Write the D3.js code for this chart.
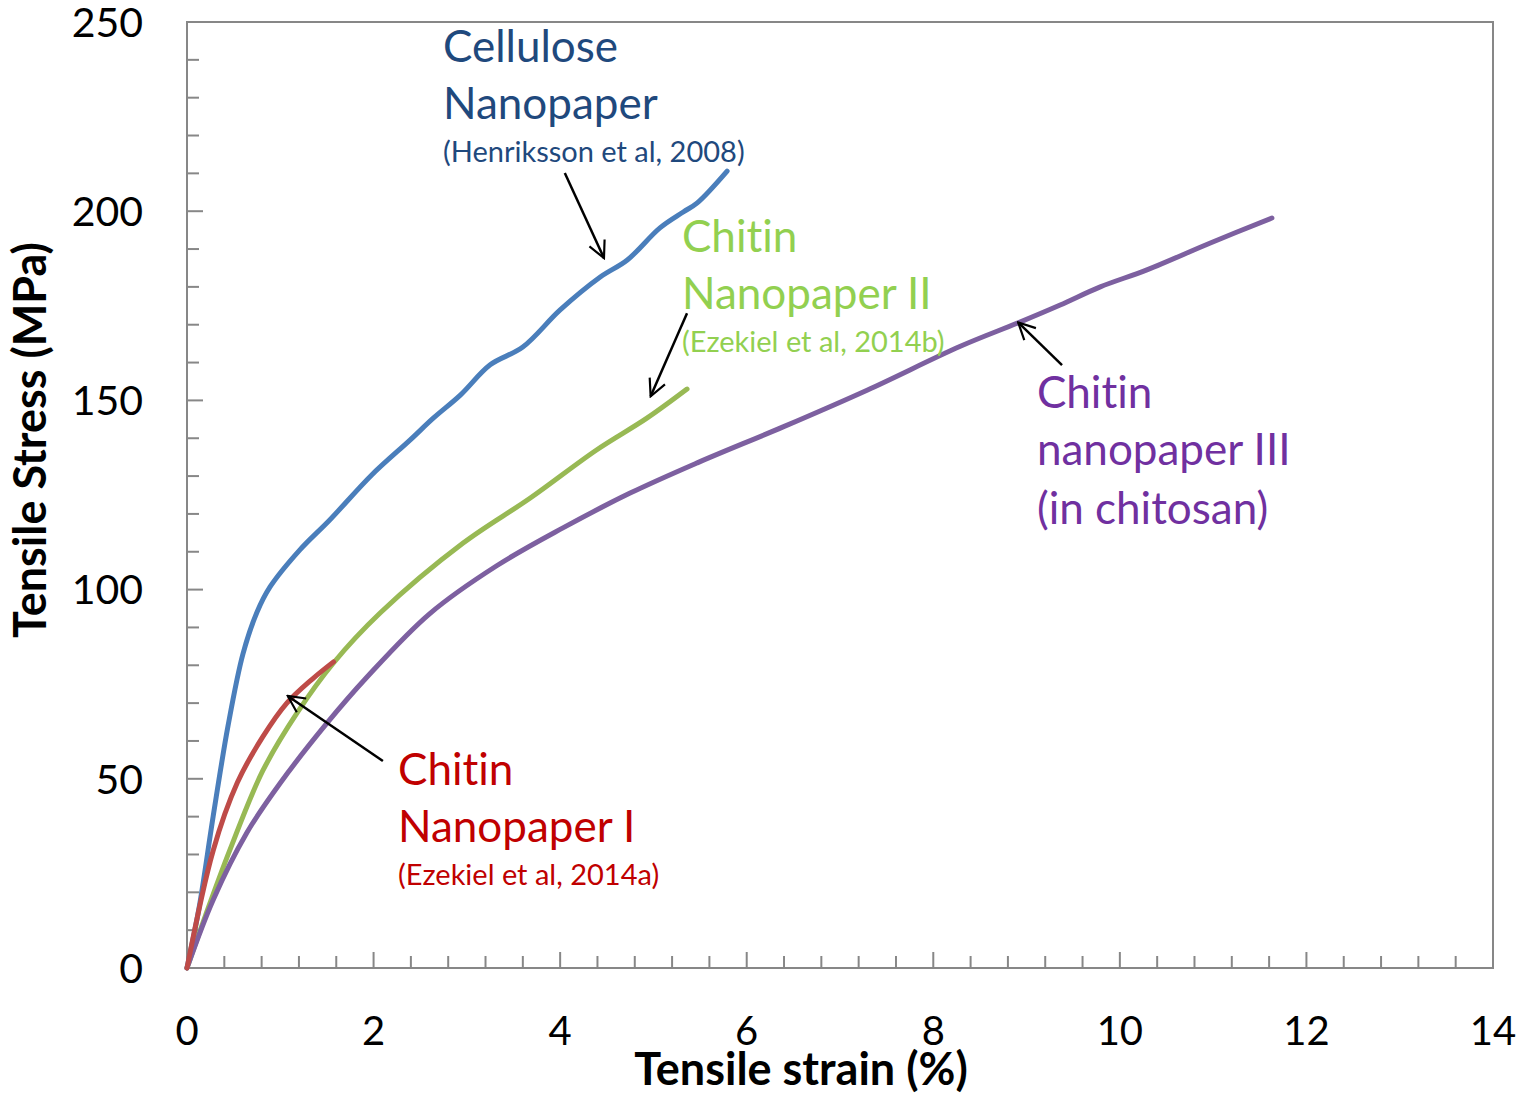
<!DOCTYPE html>
<html>
<head>
<meta charset="utf-8">
<script src="https://cdn.jsdelivr.net/npm/d3@7"></script>
<style>
  body { margin: 0; background: #fff; }
  text { font-family: Lato, "Open Sans", sans-serif; font-variant-ligatures: none; }
</style>
</head>
<body>
<script>
const celluloseStrain = [0, 0.13, 0.28, 0.44, 0.60, 0.75, 0.89, 1.21, 1.53, 1.98, 2.39, 2.64, 2.93, 3.25, 3.60, 4.00, 4.43, 4.72, 5.07, 5.32, 5.47, 5.79];
const celluloseStress = [0, 16.0, 40.0, 64.0, 83.0, 94.0, 100.7, 110.5, 118.4, 130.3, 139.5, 145.3, 151.4, 159.4, 164.1, 173.9, 182.6, 187.1, 195.6, 199.8, 202.2, 210.6];

const chitin1Strain = [0, 0.28, 0.54, 0.81, 1.07, 1.35, 1.57];
const chitin1Stress = [0, 31.0, 49.0, 61.0, 70.0, 76.5, 80.9];

const chitin2Strain = [0, 0.2, 0.46, 0.81, 1.18, 1.57, 2.07, 2.96, 3.68, 4.39, 4.93, 5.36];
const chitin2Stress = [0, 14.0, 31.2, 52.0, 67.4, 80.6, 93.8, 112.3, 124.2, 136.9, 145.3, 153.0];

const chitin3Strain = [0, 0.28, 0.64, 1.00, 1.50, 1.93, 2.60, 3.32, 4.03, 4.75, 5.47, 6.39, 7.29, 8.29, 8.91, 9.36, 9.79, 10.29, 10.97, 11.63];
const chitin3Stress = [0, 18.0, 35.7, 48.9, 64.7, 76.9, 93.6, 106.3, 116.3, 125.5, 133.5, 143.0, 152.7, 164.3, 170.5, 175.2, 180.0, 184.5, 191.6, 198.2];

const xTicks = [0, 2, 4, 6, 8, 10, 12, 14];
const yTicks = [0, 50, 100, 150, 200, 250];

const series = [
  { x: celluloseStrain, y: celluloseStress, color: "#4a7ebb" },
  { x: chitin2Strain, y: chitin2Stress, color: "#98b954" },
  { x: chitin3Strain, y: chitin3Stress, color: "#7d60a0" },
  { x: chitin1Strain, y: chitin1Stress, color: "#be4b48" }
];

// labels: [strain, stress] of the first line's left baseline
const labels = [
  { at: [2.744, 239.4], color: "#1f497d", lines: ["Cellulose", "Nanopaper", "(Henriksson et al, 2008)"] },
  { at: [5.306, 189.2], color: "#92d050", lines: ["Chitin", "Nanopaper II", "(Ezekiel et al, 2014b)"] },
  { at: [9.111, 148.0], color: "#7030a0", lines: ["Chitin", "nanopaper III", "(in chitosan)"], big: true },
  { at: [2.262, 48.4], color: "#c00000", lines: ["Chitin", "Nanopaper I", "(Ezekiel et al, 2014a)"] }
];
const arrows = [
  { from: [4.05, 210.1], to: [4.47, 187.6] },
  { from: [5.36, 173.0], to: [4.97, 151.1] },
  { from: [2.10, 54.7], to: [1.08, 71.9] },
  { from: [9.38, 159.3], to: [8.91, 170.6] }
];

const W = 1521, H = 1095;
const svg = d3.select("body").append("svg").attr("width", W).attr("height", H);

const x = d3.scaleLinear().domain([0, 14]).range([187, 1493]);
const y = d3.scaleLinear().domain([0, 250]).range([968, 22]);

const axisColor = "#878787";

// minor / major ticks pointing inward
const yMinor = d3.range(0, 251, 10);
svg.append("g").selectAll("line").data(yMinor).join("line")
  .attr("x1", x(0)).attr("x2", d => x(0) + (d % 50 === 0 ? 16 : 12))
  .attr("y1", d => y(d)).attr("y2", d => y(d))
  .attr("stroke", axisColor).attr("stroke-width", 2);

const xMinor = d3.range(0, 36).map(i => i * 0.4);
svg.append("g").selectAll("line").data(xMinor).join("line")
  .attr("x1", d => x(d)).attr("x2", d => x(d))
  .attr("y1", y(0)).attr("y2", d => y(0) - (Math.abs(d / 2 - Math.round(d / 2)) < 1e-6 ? 16 : 12))
  .attr("stroke", axisColor).attr("stroke-width", 2);

svg.append("rect")
  .attr("x", x(0)).attr("y", y(250))
  .attr("width", x(14) - x(0)).attr("height", y(0) - y(250))
  .attr("fill", "none").attr("stroke", axisColor).attr("stroke-width", 2);

// tick labels
svg.append("g").selectAll("text").data(yTicks).join("text")
  .attr("x", 143).attr("y", d => y(d)).attr("dy", "0.36em")
  .attr("text-anchor", "end").attr("font-size", 41).attr("fill", "#000")
  .text(d => d);

svg.append("g").selectAll("text").data(xTicks).join("text")
  .attr("x", d => x(d)).attr("y", 1045)
  .attr("text-anchor", "middle").attr("font-size", 40).attr("fill", "#000")
  .text(d => d);

// axis titles
svg.append("text")
  .attr("x", 801).attr("y", 1085)
  .attr("text-anchor", "middle").attr("font-size", 45).attr("font-weight", "bold")
  .text("Tensile strain (%)");

svg.append("text")
  .attr("transform", "translate(46,440) rotate(-90)")
  .attr("text-anchor", "middle").attr("font-size", 45).attr("font-weight", "bold")
  .text("Tensile Stress (MPa)");

// curves
const line = d3.line().x(d => x(d[0])).y(d => y(d[1])).curve(d3.curveCatmullRom.alpha(0.5));
svg.append("g").selectAll("path").data(series).join("path")
  .attr("d", s => line(s.x.map((v, i) => [v, s.y[i]])))
  .attr("fill", "none").attr("stroke", s => s.color)
  .attr("stroke-width", 5).attr("stroke-linecap", "round").attr("stroke-linejoin", "round");

// arrows
svg.append("defs").append("marker")
  .attr("id", "head").attr("viewBox", "0 0 12 12")
  .attr("refX", 11).attr("refY", 6)
  .attr("markerWidth", 8).attr("markerHeight", 8)
  .attr("markerUnits", "strokeWidth").attr("orient", "auto")
  .append("path").attr("d", "M1,1 L11,6 L1,11")
  .attr("fill", "none").attr("stroke", "#000").attr("stroke-width", 1.3);

svg.append("g").selectAll("line").data(arrows).join("line")
  .attr("x1", a => x(a.from[0])).attr("y1", a => y(a.from[1]))
  .attr("x2", a => x(a.to[0])).attr("y2", a => y(a.to[1]))
  .attr("stroke", "#000").attr("stroke-width", 2.5)
  .attr("marker-end", "url(#head)");

// labels
labels.forEach(l => {
  const g = svg.append("g").attr("fill", l.color);
  const lx = x(l.at[0]), ly = y(l.at[1]);
  l.lines.forEach((t, i) => {
    const small = i === 2 && !l.big;
    g.append("text")
      .attr("x", lx)
      .attr("y", ly + (i === 0 ? 0 : i === 1 ? 57 : (l.big ? 116 : 100)))
      .attr("font-size", small ? 29 : 44)
      .text(t);
  });
});
</script>
</body>
</html>
